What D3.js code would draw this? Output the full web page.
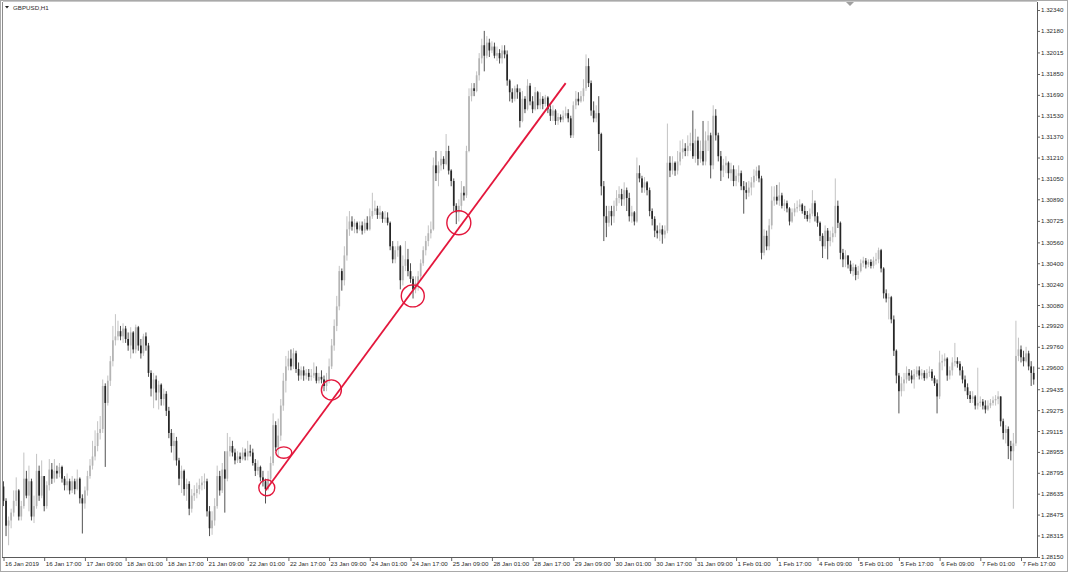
<!DOCTYPE html>
<html>
<head>
<meta charset="utf-8">
<script src="https://cdn.jsdelivr.net/npm/d3@7"></script>
<style>
  html, body { margin: 0; padding: 0; background: #fff; }
  svg { display: block; }
</style>
</head>
<body>
<svg id="chart" width="1068" height="572"></svg>
<script>
const SYMBOL = "GBPUSD,H1";

const PRICE_TICKS = [1.32340, 1.32180, 1.32015, 1.31850, 1.31690, 1.31530, 1.31370, 1.31210, 1.31050,
  1.30890, 1.30725, 1.30560, 1.30400, 1.30240, 1.30080, 1.29920, 1.29760, 1.29600, 1.29435,
  1.29275, 1.29115, 1.28955, 1.28795, 1.28635, 1.28475, 1.28315, 1.28150];

const TIME_LABELS = ["16 Jan 2019", "16 Jan 17:00", "17 Jan 09:00", "18 Jan 01:00", "18 Jan 17:00",
  "21 Jan 09:00", "22 Jan 01:00", "22 Jan 17:00", "23 Jan 09:00", "24 Jan 01:00", "24 Jan 17:00",
  "25 Jan 09:00", "28 Jan 01:00", "28 Jan 17:00", "29 Jan 09:00", "30 Jan 01:00", "30 Jan 17:00",
  "31 Jan 09:00", "1 Feb 01:00", "1 Feb 17:00", "4 Feb 09:00", "5 Feb 01:00", "5 Feb 17:00",
  "6 Feb 09:00", "7 Feb 01:00", "7 Feb 17:00"];

// hourly bars, open of each bar = close of the one before
const FIRST_OPEN = 1.2869;

const CLOSES = [
  1.2858,1.2839,1.2843,1.2849,1.2858,1.2866,1.2846,1.2854,1.2875,1.2862,
  1.2873,1.2846,1.2854,1.2881,1.2862,1.2877,1.2854,1.2870,1.2882,1.2875,
  1.2881,1.2879,1.2884,1.2875,1.2870,1.2873,1.2866,1.2873,1.2867,1.2875,
  1.2860,1.2856,1.2866,1.2877,1.2885,1.2892,1.2900,1.2910,1.2913,1.2946,
  1.2933,1.2950,1.2965,1.2981,1.2984,1.2988,1.2984,1.2990,1.2982,1.2977,
  1.2987,1.2974,1.2991,1.2977,1.2971,1.2984,1.2977,1.2956,1.2944,1.2951,
  1.2941,1.2947,1.2936,1.2940,1.2927,1.2910,1.2900,1.2904,1.2889,1.2875,
  1.2881,1.2867,1.2871,1.2852,1.2862,1.2864,1.2867,1.2870,1.2872,1.2873,
  1.2850,1.2837,1.2843,1.2854,1.2877,1.2866,1.2882,1.2875,1.2896,1.2900,
  1.2895,1.2889,1.2892,1.2890,1.2895,1.2892,1.2896,1.2895,1.2887,1.2881,
  1.2884,1.2876,1.2873,1.2867,1.2875,1.2887,1.2916,1.2899,1.2908,1.2931,
  1.2950,1.2961,1.2967,1.2961,1.2971,1.2959,1.2954,1.2958,1.2954,1.2956,
  1.2953,1.2954,1.2956,1.2950,1.2953,1.2951,1.2946,1.2951,1.2961,1.2977,
  1.2992,1.3007,1.3034,1.3027,1.3046,1.3066,1.3072,1.3068,1.3071,1.3066,
  1.3069,1.3065,1.3071,1.3066,1.3076,1.3080,1.3082,1.3077,1.3079,1.3074,
  1.3075,1.3071,1.3053,1.3043,1.3050,1.3053,1.3027,1.3038,1.3043,1.3034,
  1.3028,1.3020,1.3025,1.3030,1.3040,1.3050,1.3057,1.3063,1.3066,1.3115,
  1.3109,1.3115,1.3120,1.3116,1.3126,1.3111,1.3103,1.3084,1.3079,1.3084,
  1.3094,1.3092,1.3126,1.3168,1.3174,1.3172,1.3184,1.3197,1.3207,1.3199,
  1.3209,1.3203,1.3206,1.3199,1.3201,1.3197,1.3203,1.3200,1.3180,1.3171,
  1.3166,1.3174,1.3171,1.3149,1.3166,1.3158,1.3176,1.3164,1.3158,1.3171,
  1.3161,1.3166,1.3162,1.3167,1.3158,1.3153,1.3157,1.3149,1.3152,1.3150,
  1.3153,1.3155,1.3151,1.3138,1.3161,1.3166,1.3164,1.3168,1.3174,1.3191,
  1.3178,1.3157,1.3151,1.3155,1.3139,1.3099,1.3076,1.3071,1.3080,1.3076,
  1.3084,1.3090,1.3093,1.3089,1.3096,1.3090,1.3076,1.3079,1.3072,1.3109,
  1.3105,1.3098,1.3102,1.3096,1.3080,1.3074,1.3065,1.3063,1.3066,1.3062,
  1.3065,1.3117,1.3111,1.3117,1.3111,1.3118,1.3125,1.3128,1.3126,1.3130,
  1.3132,1.3122,1.3134,1.3120,1.3126,1.3118,1.3134,1.3138,1.3115,1.3153,
  1.3138,1.3122,1.3111,1.3115,1.3117,1.3109,1.3112,1.3103,1.3107,1.3109,
  1.3099,1.3096,1.3094,1.3098,1.3102,1.3107,1.3111,1.3105,1.3048,1.3061,
  1.3053,1.3069,1.3088,1.3091,1.3088,1.3092,1.3084,1.3086,1.3082,1.3072,
  1.3079,1.3082,1.3083,1.3085,1.3080,1.3077,1.3074,1.3078,1.3086,1.3076,
  1.3071,1.3061,1.3053,1.3065,1.3057,1.3060,1.3063,1.3084,1.3071,1.3048,
  1.3043,1.3046,1.3039,1.3034,1.3037,1.3031,1.3034,1.3040,1.3042,1.3039,
  1.3041,1.3038,1.3042,1.3043,1.3050,1.3036,1.3017,1.3013,1.3014,1.2997,
  1.2973,1.2954,1.2942,1.2948,1.2951,1.2956,1.2954,1.2951,1.2955,1.2958,
  1.2954,1.2956,1.2952,1.2956,1.2957,1.2952,1.2948,1.2938,1.2964,1.2965,
  1.2967,1.2954,1.2958,1.2964,1.2965,1.2963,1.2958,1.2951,1.2945,1.2939,
  1.2936,1.2938,1.2931,1.2933,1.2934,1.2931,1.2928,1.2931,1.2933,1.2935,
  1.2936,1.2938,1.2919,1.2910,1.2913,1.2900,1.2896,1.2902,1.2969,1.2974,
  1.2968,1.2965,1.2971,1.2961,1.2956,1.2951
];

const HIGHS = [
  1.2873,1.2860,1.2846,1.2852,1.2866,1.2876,1.2867,1.2858,1.2895,1.2881,
  1.2885,1.2875,1.2862,1.2894,1.2885,1.2889,1.2877,1.2873,1.2890,1.2887,
  1.2890,1.2885,1.2887,1.2885,1.2877,1.2879,1.2875,1.2877,1.2875,1.2882,
  1.2876,1.2863,1.2869,1.2881,1.2890,1.2904,1.2912,1.2919,1.2923,1.2951,
  1.2948,1.2954,1.2969,1.2992,1.3001,1.2996,1.2992,1.2994,1.2992,1.2987,
  1.2991,1.2988,1.2993,1.2992,1.2982,1.2986,1.2987,1.2979,1.2958,1.2956,
  1.2954,1.2950,1.2948,1.2944,1.2942,1.2930,1.2913,1.2910,1.2907,1.2891,
  1.2885,1.2882,1.2875,1.2873,1.2867,1.2870,1.2872,1.2875,1.2877,1.2879,
  1.2875,1.2854,1.2850,1.2860,1.2885,1.2881,1.2887,1.2896,1.2910,1.2907,
  1.2904,1.2898,1.2896,1.2895,1.2899,1.2898,1.2904,1.2901,1.2898,1.2890,
  1.2889,1.2885,1.2881,1.2875,1.2881,1.2892,1.2925,1.2919,1.2921,1.2936,
  1.2956,1.2969,1.2973,1.2974,1.2975,1.2973,1.2964,1.2961,1.2961,1.2959,
  1.2959,1.2959,1.2964,1.2961,1.2956,1.2958,1.2954,1.2956,1.2967,1.2982,
  1.2997,1.3015,1.3038,1.3036,1.3053,1.3076,1.3080,1.3076,1.3074,1.3072,
  1.3072,1.3072,1.3074,1.3076,1.3082,1.3094,1.3088,1.3084,1.3084,1.3080,
  1.3080,1.3079,1.3072,1.3057,1.3053,1.3057,1.3054,1.3046,1.3057,1.3051,
  1.3040,1.3030,1.3030,1.3034,1.3043,1.3053,1.3061,1.3069,1.3072,1.3121,
  1.3126,1.3118,1.3126,1.3122,1.3139,1.3130,1.3112,1.3105,1.3086,1.3089,
  1.3103,1.3099,1.3130,1.3174,1.3178,1.3178,1.3187,1.3201,1.3212,1.3218,
  1.3214,1.3212,1.3210,1.3209,1.3206,1.3204,1.3207,1.3207,1.3203,1.3181,
  1.3174,1.3176,1.3177,1.3174,1.3172,1.3168,1.3181,1.3178,1.3168,1.3175,
  1.3172,1.3171,1.3168,1.3169,1.3168,1.3161,1.3161,1.3158,1.3155,1.3154,
  1.3157,1.3160,1.3158,1.3153,1.3164,1.3172,1.3171,1.3172,1.3181,1.3200,
  1.3197,1.3180,1.3164,1.3161,1.3168,1.3140,1.3103,1.3084,1.3084,1.3084,
  1.3088,1.3096,1.3099,1.3097,1.3102,1.3098,1.3094,1.3084,1.3080,1.3121,
  1.3115,1.3107,1.3106,1.3103,1.3098,1.3082,1.3076,1.3069,1.3071,1.3069,
  1.3069,1.3147,1.3122,1.3122,1.3118,1.3126,1.3134,1.3135,1.3132,1.3138,
  1.3140,1.3157,1.3143,1.3137,1.3134,1.3149,1.3141,1.3149,1.3140,1.3161,
  1.3158,1.3140,1.3126,1.3120,1.3122,1.3118,1.3117,1.3115,1.3112,1.3115,
  1.3111,1.3103,1.3102,1.3103,1.3106,1.3112,1.3114,1.3115,1.3107,1.3066,
  1.3065,1.3074,1.3099,1.3099,1.3100,1.3102,1.3094,1.3089,1.3088,1.3083,
  1.3082,1.3086,1.3088,1.3089,1.3086,1.3084,1.3080,1.3082,1.3096,1.3088,
  1.3079,1.3072,1.3063,1.3069,1.3067,1.3065,1.3068,1.3105,1.3088,1.3072,
  1.3051,1.3050,1.3046,1.3042,1.3040,1.3039,1.3038,1.3043,1.3045,1.3044,
  1.3043,1.3043,1.3045,1.3048,1.3052,1.3051,1.3037,1.3020,1.3017,1.3015,
  1.3000,1.2974,1.2956,1.2953,1.2956,1.2961,1.2959,1.2958,1.2959,1.2961,
  1.2961,1.2959,1.2958,1.2959,1.2961,1.2959,1.2954,1.2951,1.2973,1.2970,
  1.2971,1.2968,1.2961,1.2968,1.2979,1.2968,1.2965,1.2961,1.2954,1.2948,
  1.2942,1.2942,1.2939,1.2960,1.2938,1.2936,1.2935,1.2935,1.2936,1.2938,
  1.2939,1.2942,1.2938,1.2921,1.2916,1.2915,1.2904,1.2910,1.2996,1.2983,
  1.2977,1.2973,1.2976,1.2973,1.2965,1.2961
];

const LOWS = [
  1.2854,1.2831,1.2824,1.2837,1.2846,1.2854,1.2843,1.2843,1.2852,1.2860,
  1.2850,1.2843,1.2841,1.2852,1.2858,1.2860,1.2850,1.2852,1.2866,1.2871,
  1.2872,1.2875,1.2876,1.2872,1.2866,1.2866,1.2863,1.2864,1.2863,1.2866,
  1.2856,1.2833,1.2852,1.2862,1.2875,1.2882,1.2889,1.2896,1.2905,1.2910,
  1.2884,1.2931,1.2946,1.2961,1.2977,1.2981,1.2981,1.2979,1.2979,1.2973,
  1.2967,1.2971,1.2971,1.2973,1.2967,1.2969,1.2973,1.2953,1.2938,1.2929,
  1.2935,1.2928,1.2931,1.2931,1.2923,1.2906,1.2895,1.2889,1.2885,1.2870,
  1.2864,1.2862,1.2858,1.2847,1.2849,1.2858,1.2860,1.2863,1.2866,1.2867,
  1.2846,1.2831,1.2832,1.2839,1.2852,1.2862,1.2864,1.2849,1.2873,1.2892,
  1.2892,1.2886,1.2887,1.2887,1.2889,1.2889,1.2889,1.2892,1.2885,1.2877,
  1.2878,1.2873,1.2869,1.2856,1.2866,1.2872,1.2885,1.2896,1.2892,1.2904,
  1.2927,1.2941,1.2958,1.2958,1.2959,1.2956,1.2950,1.2951,1.2950,1.2951,
  1.2950,1.2950,1.2952,1.2948,1.2948,1.2948,1.2942,1.2942,1.2948,1.2959,
  1.2973,1.2988,1.3004,1.3019,1.3023,1.3042,1.3061,1.3065,1.3063,1.3063,
  1.3065,1.3062,1.3063,1.3065,1.3065,1.3074,1.3077,1.3074,1.3074,1.3071,
  1.3071,1.3069,1.3050,1.3040,1.3040,1.3045,1.3020,1.3023,1.3034,1.3030,
  1.3025,1.3013,1.3017,1.3019,1.3027,1.3038,1.3046,1.3053,1.3059,1.3065,
  1.3103,1.3099,1.3111,1.3112,1.3115,1.3108,1.3099,1.3080,1.3070,1.3072,
  1.3080,1.3088,1.3090,1.3125,1.3164,1.3168,1.3171,1.3180,1.3193,1.3187,
  1.3197,1.3198,1.3201,1.3197,1.3195,1.3193,1.3193,1.3197,1.3176,1.3164,
  1.3163,1.3164,1.3166,1.3144,1.3148,1.3155,1.3157,1.3161,1.3155,1.3157,
  1.3158,1.3158,1.3158,1.3160,1.3155,1.3149,1.3149,1.3146,1.3146,1.3148,
  1.3148,1.3151,1.3148,1.3136,1.3136,1.3158,1.3161,1.3163,1.3164,1.3172,
  1.3175,1.3153,1.3148,1.3148,1.3126,1.3092,1.3057,1.3060,1.3068,1.3069,
  1.3071,1.3080,1.3086,1.3084,1.3084,1.3080,1.3072,1.3071,1.3069,1.3071,
  1.3102,1.3094,1.3094,1.3092,1.3076,1.3069,1.3060,1.3059,1.3057,1.3055,
  1.3059,1.3063,1.3106,1.3108,1.3107,1.3108,1.3115,1.3120,1.3122,1.3122,
  1.3126,1.3120,1.3117,1.3115,1.3117,1.3115,1.3115,1.3126,1.3105,1.3112,
  1.3134,1.3118,1.3103,1.3106,1.3109,1.3105,1.3103,1.3099,1.3099,1.3102,
  1.3096,1.3078,1.3089,1.3091,1.3092,1.3098,1.3103,1.3102,1.3043,1.3046,
  1.3050,1.3050,1.3066,1.3084,1.3085,1.3084,1.3082,1.3080,1.3079,1.3069,
  1.3071,1.3076,1.3079,1.3080,1.3078,1.3074,1.3072,1.3071,1.3076,1.3072,
  1.3068,1.3057,1.3044,1.3051,1.3043,1.3053,1.3056,1.3060,1.3067,1.3043,
  1.3037,1.3037,1.3036,1.3032,1.3030,1.3027,1.3028,1.3033,1.3037,1.3036,
  1.3037,1.3036,1.3036,1.3039,1.3040,1.3033,1.3013,1.3010,1.2997,1.2994,
  1.2969,1.2948,1.2925,1.2938,1.2942,1.2948,1.2950,1.2948,1.2944,1.2953,
  1.2951,1.2951,1.2950,1.2951,1.2953,1.2950,1.2946,1.2925,1.2936,1.2958,
  1.2961,1.2950,1.2951,1.2954,1.2961,1.2960,1.2954,1.2948,1.2942,1.2936,
  1.2933,1.2933,1.2928,1.2928,1.2930,1.2928,1.2925,1.2927,1.2929,1.2931,
  1.2931,1.2932,1.2915,1.2905,1.2902,1.2890,1.2889,1.2852,1.2900,1.2965,
  1.2964,1.2961,1.2964,1.2958,1.2946,1.2947
];

// trend line (bar index, price) and the touch points circled on it
const TREND = [[103, 1.2866], [221, 1.3178]];
const TOUCH_BARS = [103.5, 110.2, 128.9, 160.9, 179];
const TOUCH_PRICES = [1.2868, 1.2895, 1.2943, 1.3015, 1.3071];

const W = 1068, H = 572;
const PLOT = { left: 3, top: 2, right: 1037, bottom: 557 };
const BULL = "#b4b4b4", BEAR = "#262626", RED = "#e3173c";
const TOUCH_R = [[8, 8], [8, 5.7], [10, 10], [11.5, 11], [12, 12]];
const FONT = "'Liberation Sans', Arial, sans-serif";

const svg = d3.select("#chart");

const x = d3.scaleLinear().domain([0, 400]).range([3.5, 1021]);
const y = d3.scaleLinear().domain([1.28150, 1.32340]).range([557, 10]);

let bars = CLOSES.map((c, i) => ({
  i: i,
  o: i === 0 ? FIRST_OPEN : CLOSES[i - 1],
  c: c,
  h: HIGHS[i],
  l: LOWS[i]
}));

// window frame
svg.append("rect")
  .attr("x", 0.5).attr("y", 0.5)
  .attr("width", W - 1).attr("height", H - 1)
  .attr("fill", "#fff").attr("stroke", "#a9a9a9");

svg.append("line")
  .attr("x1", PLOT.left - 0.5).attr("x2", PLOT.left - 0.5)
  .attr("y1", PLOT.top).attr("y2", PLOT.bottom)
  .attr("stroke", "#8c8c8c");
svg.append("line")
  .attr("x1", PLOT.left).attr("x2", PLOT.right)
  .attr("y1", PLOT.top - 0.5).attr("y2", PLOT.top - 0.5)
  .attr("stroke", "#c8c8c8");

svg.append("clipPath").attr("id", "plotclip")
  .append("rect")
  .attr("x", PLOT.left).attr("y", PLOT.top)
  .attr("width", PLOT.right - PLOT.left).attr("height", PLOT.bottom - PLOT.top);

let candles = svg.append("g").attr("clip-path", "url(#plotclip)");

let candle = candles.selectAll("g")
  .data(bars)
  .enter()
  .append("g");

candle.append("line")
  .attr("x1", d => x(d.i)).attr("x2", d => x(d.i))
  .attr("y1", d => y(d.h)).attr("y2", d => y(d.l))
  .attr("stroke", d => d.c >= d.o ? BULL : BEAR)
  .attr("stroke-width", 0.8);

candle.append("rect")
  .attr("x", d => x(d.i) - 0.85)
  .attr("width", 1.7)
  .attr("y", d => y(Math.max(d.o, d.c)))
  .attr("height", d => Math.max(0.8, Math.abs(y(d.o) - y(d.c))))
  .attr("fill", d => d.c >= d.o ? BULL : BEAR);

// trend line and circled touches
let overlay = svg.append("g").attr("clip-path", "url(#plotclip)");

overlay.append("line")
  .attr("x1", x(TREND[0][0])).attr("y1", y(TREND[0][1]))
  .attr("x2", x(TREND[1][0])).attr("y2", y(TREND[1][1]))
  .attr("stroke", RED).attr("stroke-width", 1.8);

overlay.selectAll("ellipse")
  .data(TOUCH_BARS)
  .enter()
  .append("ellipse")
  .attr("cx", d => x(d))
  .attr("cy", (d, i) => y(TOUCH_PRICES[i]))
  .attr("rx", (d, i) => TOUCH_R[i][0])
  .attr("ry", (d, i) => TOUCH_R[i][1])
  .attr("fill", "none")
  .attr("stroke", RED)
  .attr("stroke-width", 1.4);

// price scale
let yAxis = svg.append("g")
  .attr("transform", "translate(" + PLOT.right + ",0)")
  .call(d3.axisRight(y)
    .tickValues(PRICE_TICKS)
    .tickFormat(d3.format(".5f"))
    .tickSize(3)
    .tickPadding(1));
yAxis.select(".domain").remove();
yAxis.selectAll("line").attr("stroke", "#666");
yAxis.selectAll("text")
  .attr("font-family", FONT).attr("font-size", 6.2).attr("fill", "#2a2a2a");

// time scale
let xAxis = svg.append("g")
  .attr("transform", "translate(0," + PLOT.bottom + ")")
  .call(d3.axisBottom(x)
    .tickValues(d3.range(0, 401, 16))
    .tickFormat((d, i) => TIME_LABELS[i])
    .tickSize(4)
    .tickPadding(1));
xAxis.select(".domain").remove();
xAxis.selectAll("line").attr("stroke", "#666");
xAxis.selectAll("text")
  .attr("font-family", FONT).attr("font-size", 6.2).attr("fill", "#2a2a2a")
  .attr("text-anchor", "start").attr("x", 1);

// axis lines
svg.append("line")
  .attr("x1", PLOT.right + 0.5).attr("x2", PLOT.right + 0.5)
  .attr("y1", PLOT.top).attr("y2", PLOT.bottom + 0.5)
  .attr("stroke", "#5a5a5a");
svg.append("line")
  .attr("x1", PLOT.left - 1).attr("x2", PLOT.right + 0.5)
  .attr("y1", PLOT.bottom + 0.5).attr("y2", PLOT.bottom + 0.5)
  .attr("stroke", "#5a5a5a");

// chart-shift marker
svg.append("path")
  .attr("d", "M846,2 L854,2 L850,6 Z")
  .attr("fill", "#a0a0a0");

// symbol caption
svg.append("path")
  .attr("d", "M5,6 L9,6 L7,8.5 Z")
  .attr("fill", "#222");
svg.append("text")
  .attr("x", 13).attr("y", 9.5)
  .attr("font-family", FONT).attr("font-size", 6.2).attr("fill", "#2a2a2a")
  .text(SYMBOL);
</script>
</body>
</html>
